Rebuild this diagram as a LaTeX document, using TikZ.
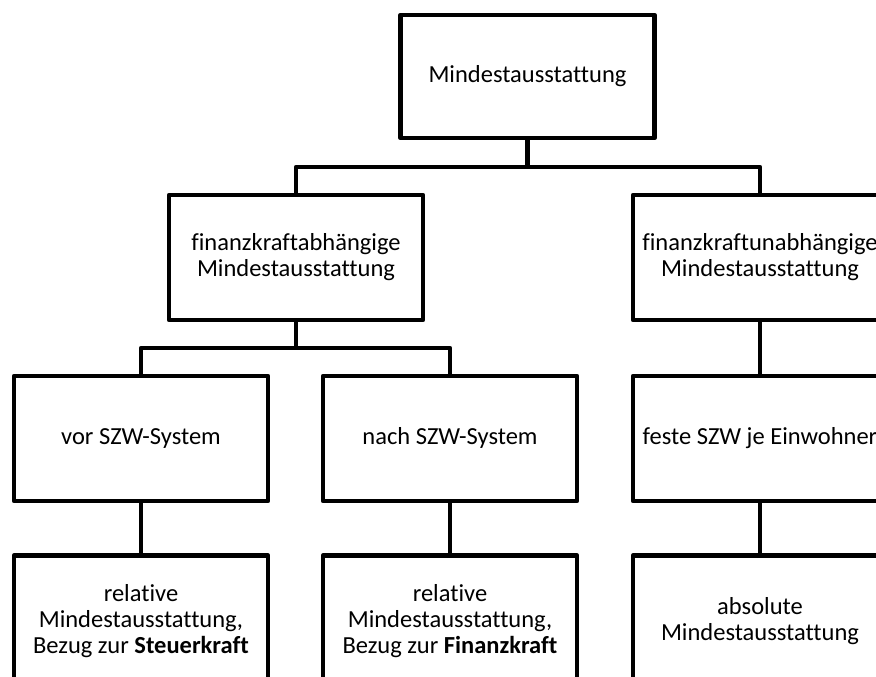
\documentclass[tikz,border=0pt]{standalone}
\usepackage{fontspec}
\setmainfont[Ligatures=NoCommon]{Carlito}
\begin{document}
\begin{tikzpicture}[x=1pt,y=-1pt,
  every node/.style={font=\fontsize{24.5}{26}\selectfont},
  box/.style={draw=black, line width=4.5pt, fill=white, line join=round,
    minimum width=254pt, minimum height=125pt, align=center, inner sep=0pt},
  oneline/.style={text height=17pt, text depth=5pt},
  link/.style={draw=black, line width=4.5pt, line join=round}]
\useasboundingbox (0,0) rectangle (876,677);
\clip (0,0) rectangle (876,677);

% level 0
\node[box, oneline, minimum height=123pt] (root) at (527.5,76.5) {Mindestausstattung};

% level 1
\node[box] (fa) at (296,257.5) {finanzkraftabhängige\\Mindestausstattung};
\node[box] (fu) at (760,257.5) {finanzkraftunabhängige\\Mindestausstattung};

% level 2
\node[box, oneline] (vor) at (141,438.5) {vor SZW-System};
\node[box, oneline] (nach) at (450,438.5) {nach SZW-System};
\node[box, oneline] (fest) at (760,438.5) {feste SZW je Einwohner};

% level 3 (boxes run past the lower edge)
\node[box, minimum height=131pt] (rs) at (141,621) {relative\\Mindestausstattung,\\Bezug zur \textbf{Steuerkraft}};
\node[box, minimum height=131pt] (rf) at (450,621) {relative\\Mindestausstattung,\\Bezug zur \textbf{Finanzkraft}};
\node[box, minimum height=131pt] (abs) at (760,621) {absolute\\Mindestausstattung};

% connector buses
\coordinate (bus1) at (527.5,167);
\coordinate (bus2) at (296,348);

\draw[link] (root.south) -- (bus1);
\draw[link] (fa.north) |- (bus1) -| (fu.north);
\draw[link] (fa.south) -- (bus2);
\draw[link] (vor.north) |- (bus2) -| (nach.north);
\draw[link] (fu.south) -- (fest.north);
\draw[link] (vor.south) -- (rs.north);
\draw[link] (nach.south) -- (rf.north);
\draw[link] (fest.south) -- (abs.north);
\end{tikzpicture}
\end{document}
